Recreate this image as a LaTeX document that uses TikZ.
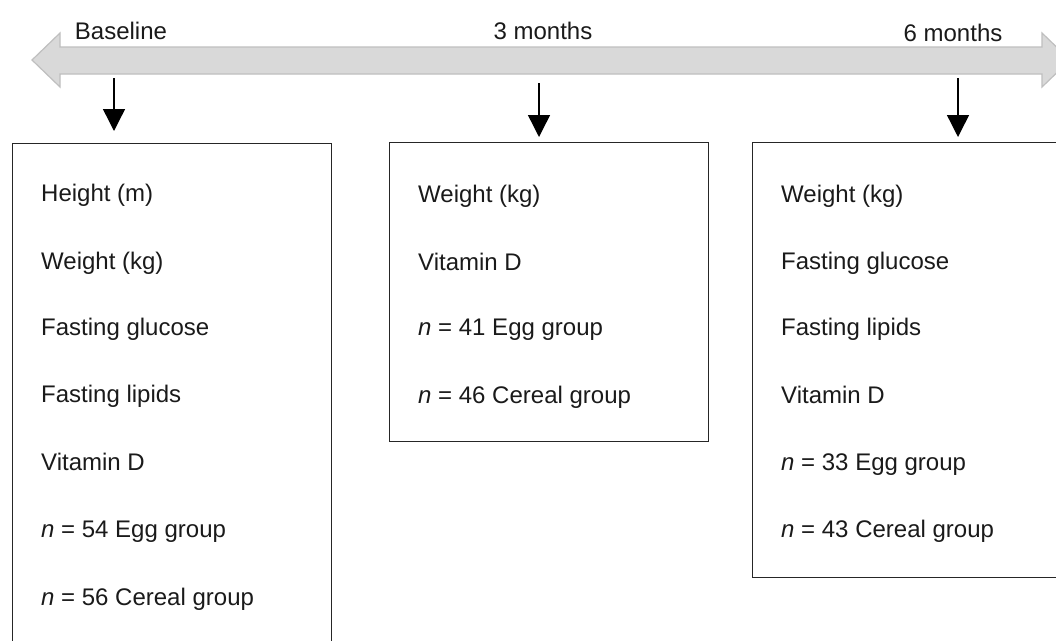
\documentclass[tikz,border=0pt]{standalone}
\usepackage{fontspec}
\setmainfont{Liberation Sans}
\usetikzlibrary{arrows.meta}
\definecolor{bandfill}{HTML}{D9D9D9}
\definecolor{bandedge}{HTML}{BFBFBF}
\definecolor{ink}{HTML}{1A1A1A}
\begin{document}
\begin{tikzpicture}[x=1pt,y=-1pt,
  box/.style={draw=black!85, line width=1.4pt, anchor=north west, inner sep=0pt},
  item/.style={anchor=base west, inner sep=0pt, text=ink, font=\fontsize{24}{28}\selectfont},
  lbl/.style={anchor=base, inner sep=0pt, text=ink, font=\fontsize{24}{28}\selectfont},
  drop/.style={line width=1.4pt, -{Triangle[width=22pt,length=22pt]}}]
\useasboundingbox (0,0) rectangle (1056,640);
\begin{scope}
\clip (0,0) rectangle (1056,640);
% timeline double arrow
\path[fill=bandfill, draw=bandedge, line width=1.2pt]
  (32,60) -- (60,33) -- (60,47) -- (1042,47) -- (1042,33) -- (1070,60)
  -- (1042,87) -- (1042,74) -- (60,74) -- (60,87) -- cycle;
\node[lbl] (t1) at (121,39) {Baseline};
\node[lbl] (t2) at (543,39) {3 months};
\node[lbl] (t3) at (953,41) {6 months};
% boxes
\node[box, minimum width=319pt, minimum height=540pt] (b1) at (12,143) {};
\node[box, minimum width=319pt, minimum height=299pt] (b2) at (389,142) {};
\node[box, minimum width=330pt, minimum height=435pt] (b3) at (752,142) {};
% drop arrows
\coordinate (a1) at (114,78);
\coordinate (a2) at (539,83);
\coordinate (a3) at (958,78);
\draw[drop, shorten >=12pt] (a1) -- (a1 |- b1.north);
\draw[drop, shorten >=5pt] (a2) -- (a2 |- b2.north);
\draw[drop, shorten >=5pt] (a3) -- (a3 |- b3.north);
% box 1 items
\node[item] (h1) at (41,201) {Height (m)};
\node[item] (h2) at (41,269) {Weight (kg)};
\node[item] (h3) at (41,335) {Fasting glucose};
\node[item] (h4) at (41,402) {Fasting lipids};
\node[item] (h5) at (41,470) {Vitamin D};
\node[item] (h6) at (41,537) {\textit{n} = 54 Egg group};
\node[item] (h7) at (41,605) {\textit{n} = 56 Cereal group};
% box 2 items
\node[item] (m1) at (418,202) {Weight (kg)};
\node[item] (m2) at (418,270) {Vitamin D};
\node[item] (m3) at (418,335) {\textit{n} = 41 Egg group};
\node[item] (m4) at (418,403) {\textit{n} = 46 Cereal group};
% box 3 items
\node[item] (s1) at (781,202) {Weight (kg)};
\node[item] (s2) at (781,269) {Fasting glucose};
\node[item] (s3) at (781,335) {Fasting lipids};
\node[item] (s4) at (781,403) {Vitamin D};
\node[item] (s5) at (781,470) {\textit{n} = 33 Egg group};
\node[item] (s6) at (781,537) {\textit{n} = 43 Cereal group};
\end{scope}
\end{tikzpicture}
\end{document}
